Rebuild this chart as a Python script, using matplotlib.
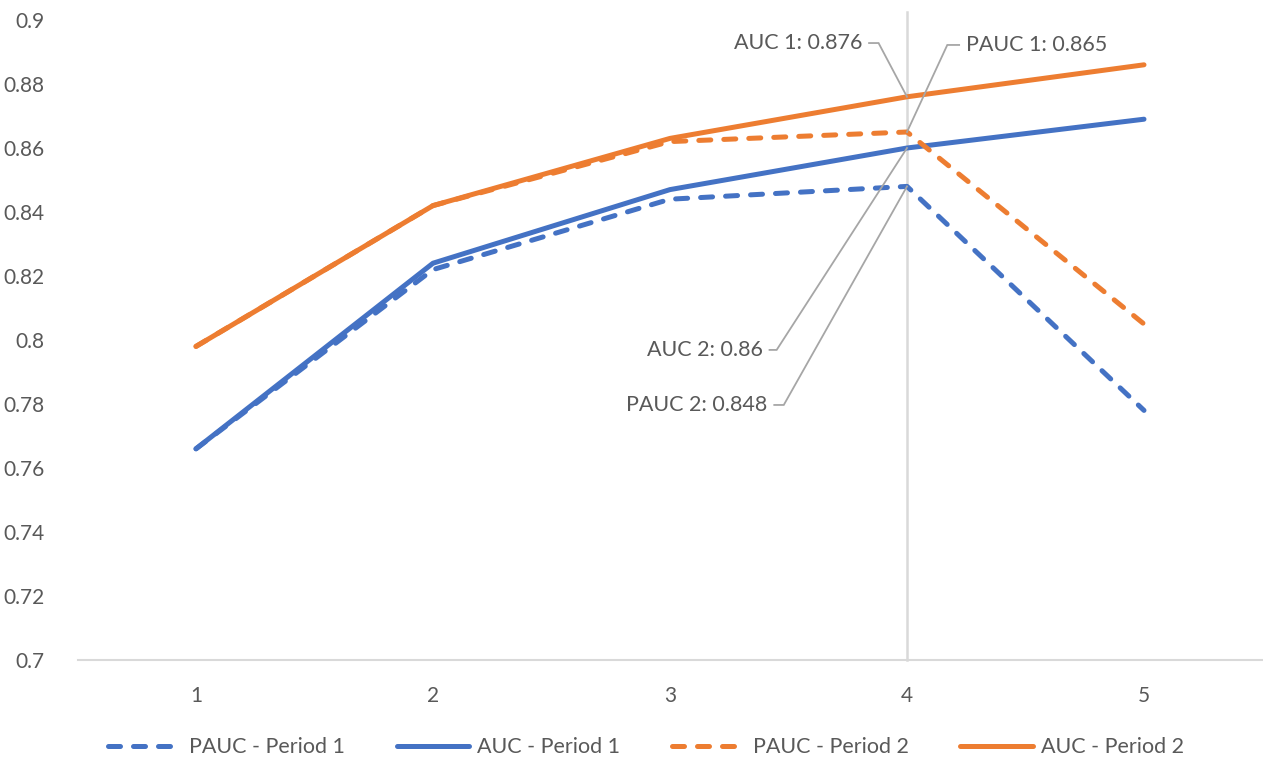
import matplotlib
matplotlib.use("Agg")
import matplotlib.pyplot as plt

x = [1, 2, 3, 4, 5]
pauc_p1 = [0.766, 0.822, 0.844, 0.848, 0.778]
auc_p1 = [0.766, 0.824, 0.847, 0.860, 0.869]
pauc_p2 = [0.798, 0.842, 0.862, 0.865, 0.805]
auc_p2 = [0.798, 0.842, 0.863, 0.876, 0.886]
yticks = [0.7, 0.72, 0.74, 0.76, 0.78, 0.8, 0.82, 0.84, 0.86, 0.88, 0.9]
ytick_labels = ["0.7", "0.72", "0.74", "0.76", "0.78", "0.8", "0.82", "0.84", "0.86", "0.88", "0.9"]

labels = ["AUC 1: 0.876", "PAUC 1: 0.865", "AUC 2: 0.86", "PAUC 2: 0.848"]
label_vals = [0.876, 0.865, 0.860, 0.848]

BLUE = "#4472C4"
ORANGE = "#ED7D31"
GRAY_TXT = "#595959"
GRID = "#D9D9D9"

plt.rcParams['font.family'] = ['Lato', 'DejaVu Sans']

fig = plt.figure(figsize=(12.63, 7.57), dpi=100)
ax = fig.add_axes([77.5 / 1263, 97 / 757, 1185 / 1263, 640 / 757])

lw = 3.6
dash = (2.4, 2.6)
ax.plot(x, pauc_p1, color=BLUE, lw=lw, dashes=dash, dash_capstyle='round',
        solid_capstyle='round', label="PAUC - Period 1", zorder=3)
ax.plot(x, auc_p1, color=BLUE, lw=lw, solid_capstyle='round', label="AUC - Period 1", zorder=3)
ax.plot(x, pauc_p2, color=ORANGE, lw=lw, dashes=dash, dash_capstyle='round',
        label="PAUC - Period 2", zorder=3)
ax.plot(x, auc_p2, color=ORANGE, lw=lw, solid_capstyle='round', label="AUC - Period 2", zorder=3)

ax.set_xlim(0.5, 5.5)
ax.set_ylim(0.7, 0.9)
ax.set_xticks(x)
ax.set_xticklabels([str(v) for v in x])
ax.set_yticks(yticks)
ax.set_yticklabels(ytick_labels)

for s in ["top", "right", "left"]:
    ax.spines[s].set_visible(False)
ax.spines["bottom"].set_color(GRID)
ax.spines["bottom"].set_linewidth(1.5)
ax.tick_params(axis='both', length=0, colors=GRAY_TXT, labelsize=15)
ax.tick_params(axis='y', pad=24)
ax.tick_params(axis='x', pad=19)

# vertical marker line at x=4
ax.axvline(4, ymin=0, ymax=1.0125, color=GRID, lw=1.8, clip_on=False, zorder=1)

# label annotations (text pos in data coords, elbow point)
specs = [
    # text x, text y, ha, elbow x
    (3.81, 0.8928, 'right', 3.88),
    (4.25, 0.8922, 'left', 4.17),
    (3.39, 0.7969, 'right', 3.45),
    (3.41, 0.7797, 'right', 3.48),
]
for (tx, ty, ha, ex), lab, val in zip(specs, labels, label_vals):
    ax.text(tx, ty, lab, ha=ha, va='center', color=GRAY_TXT, fontsize=15.5, zorder=5)
    sx = tx + 0.03 if ha == 'right' else tx - 0.03
    ax.plot([sx, ex, 4], [ty, ty, val], color="#A6A6A6", lw=1.3, zorder=4,
            solid_joinstyle='miter')

leg = ax.legend(loc='lower center', bbox_to_anchor=(0.48, -0.182), ncol=4, frameon=False,
                handlelength=3.35, columnspacing=2.4, fontsize=15.5, handletextpad=0.4)
for t in leg.get_texts():
    t.set_color(GRAY_TXT)

fig.savefig("out.png", dpi=100)
